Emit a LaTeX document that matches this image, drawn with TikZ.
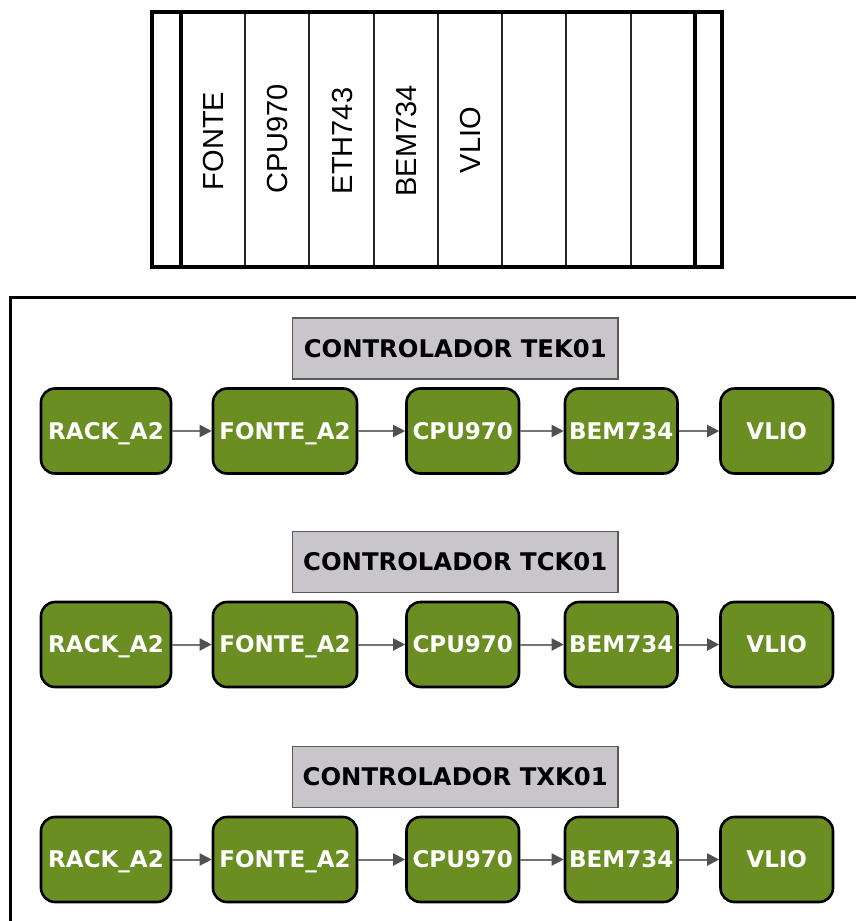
\documentclass[tikz,border=0pt]{standalone}
\usepackage{fontspec}
\setmainfont{Liberation Sans}
\newfontfamily\gfont{DejaVu Sans}
\usetikzlibrary{arrows.meta}
\definecolor{olivegreen}{RGB}{107,142,35}
\definecolor{titlegray}{RGB}{200,198,202}
\definecolor{titleborder}{RGB}{90,90,90}
\definecolor{arrowgray}{RGB}{115,115,115}
\definecolor{tipgray}{RGB}{80,80,80}
\tikzset{
  greenbox/.style={draw=black, line width=2.6pt, fill=olivegreen, rounded corners=14pt,
    text=white, font=\gfont\bfseries\fontsize{23}{23}\selectfont, inner sep=0pt,
    text height=16.5pt, text depth=0pt, minimum height=85pt},
  titlebox/.style={draw=titleborder, line width=1.8pt, fill=titlegray, inner sep=0pt,
    minimum width=325.5pt, minimum height=61pt, text height=17pt, text depth=0pt,
    font=\gfont\bfseries\fontsize{24.3}{24}\selectfont, text=black},
  flow/.style={draw=arrowgray, line width=2pt,
    -{Triangle[length=12pt,width=12pt,fill=tipgray,color=tipgray]}},
  slotlabel/.style={rotate=90, inner sep=0pt, font=\fontsize{29}{29}\selectfont},
  rackthick/.style={line width=3.5pt, draw=black},
  rackthin/.style={line width=1.5pt, draw=black!85},
}
\begin{document}
\begin{tikzpicture}[x=1pt,y=-1pt]
\useasboundingbox (0,0) rectangle (856,921);
% ---------- rack ----------
\foreach \xx in {245,309,374,438,502,566,631}
  \draw[rackthin] (\xx,12) -- (\xx,267);
\draw[rackthick] (181,12) -- (181,267);
\draw[rackthick] (695,12) -- (695,267);
\draw[rackthick] (152,12) rectangle (722,267);
\node[slotlabel] (s1) at (214,141) {FONTE};
\node[slotlabel] (s2) at (278,139) {CPU970};
\node[slotlabel] (s3) at (342.5,141) {ETH743};
\node[slotlabel] (s4) at (407,141) {BEM734};
\node[slotlabel] (s5) at (471,140) {VLIO};
% ---------- panel ----------
\draw[line width=3pt] (10,925) -- (10,297) -- (858,297);
% ---------- rows ----------
\foreach \tag/\ty/\by in {TEK01/348.5/431, TCK01/562/644.5, TXK01/777/859.5}{
  \node[titlebox] (t\tag) at (455.25,\ty) {CONTROLADOR \tag};
  \node[greenbox, minimum width=130pt] (rack\tag) at (106,\by) {RACK\_A2};
  \node[greenbox, minimum width=144pt] (fonte\tag) at (285,\by) {FONTE\_A2};
  \node[greenbox, minimum width=112.5pt] (cpu\tag) at (462.75,\by) {CPU970};
  \node[greenbox, minimum width=112.5pt] (bem\tag) at (621.25,\by) {BEM734};
  \node[greenbox, minimum width=112.5pt] (vlio\tag) at (776.75,\by) {VLIO};
  \draw[flow] (rack\tag) -- (fonte\tag);
  \draw[flow] (fonte\tag) -- (cpu\tag);
  \draw[flow] (cpu\tag) -- (bem\tag);
  \draw[flow] (bem\tag) -- (vlio\tag);
}
\end{tikzpicture}
\end{document}
